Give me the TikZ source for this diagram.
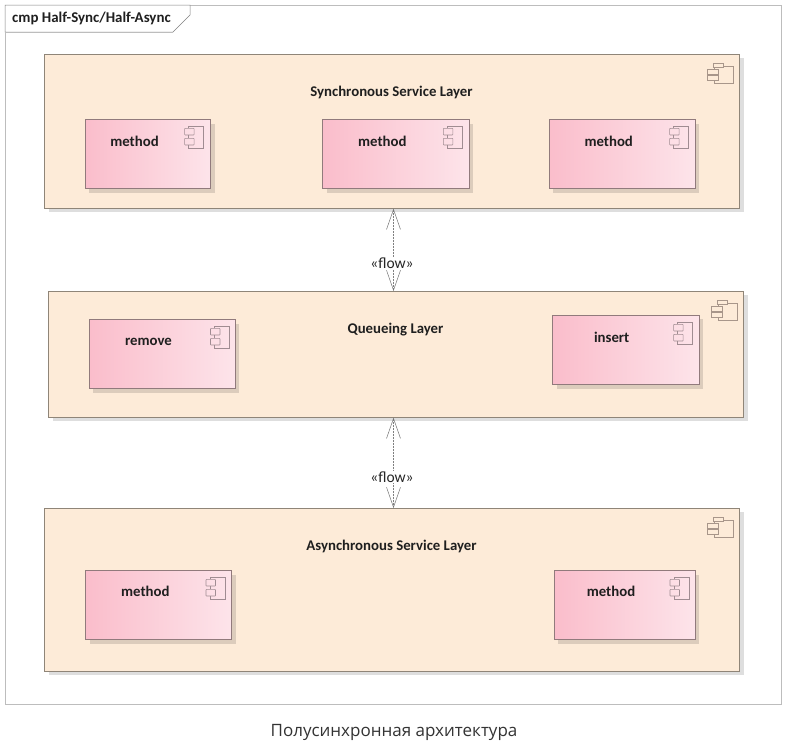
\documentclass[tikz,border=0pt]{standalone}
\usepackage{fontspec}
\setmainfont{Carlito}
\newfontfamily\capfont{Open Sans}
\usetikzlibrary{arrows.meta,calc}
\definecolor{layerfill}{HTML}{FDEBD8}
\definecolor{layerline}{HTML}{8F8578}
\definecolor{compline}{HTML}{917A7C}
\definecolor{pinkL}{HTML}{FABDCB}
\definecolor{pinkM}{HTML}{FBD4DF}
\definecolor{pinkR}{HTML}{FDE4EA}
\definecolor{frameline}{HTML}{BDBDBD}
\definecolor{iconA}{HTML}{A8968A}
\definecolor{iconB}{HTML}{A08C92}
\tikzset{
  x=1pt,y=-1pt,
  layerbox/.style={rectangle,anchor=north west,draw=layerline,line width=.7pt,fill=layerfill,inner sep=0pt,
    preaction={draw=none,fill=black,fill opacity=.13,transform canvas={xshift=4.5pt,yshift=-4pt}}},
  compbox/.style={rectangle,anchor=north west,draw=compline,line width=.7pt,left color=pinkL,middle color=pinkM,right color=pinkR,inner sep=0pt,
    preaction={draw=none,fill=black,fill opacity=.13,transform canvas={xshift=4pt,yshift=-4pt}}},
  lbl/.style={font=\bfseries\fontsize{14.8}{16}\selectfont,text=black!88,inner sep=0pt,anchor=center},
  flowlbl/.style={font=\fontsize{15.5}{17}\selectfont,fill=white,inner sep=0.5pt,text=black!85},
  flowline/.style={dash pattern=on 2pt off 1pt,draw=black!50,line width=.5pt,
    {Straight Barb[length=20pt,width=14pt,line width=.5pt,color=black!55]}-{Straight Barb[length=20pt,width=14pt,line width=.5pt,color=black!55]}},
}
% component icon: #1 = top right corner of its body
\newcommand{\compicon}[1]{%
  \begin{scope}[shift={#1},draw=iconB,line width=.55pt]
    \draw (-15,2.3) -- (-15,0) -- (0,0) -- (0,22.3) -- (-15,22.3) -- (-15,19);
    \draw (-15,9) -- (-15,12.3);
    \draw[rounded corners=.6pt] (-19,2.3) rectangle (-9.5,9);
    \draw[rounded corners=.6pt] (-19,12.3) rectangle (-9.5,19);
  \end{scope}}
\newcommand{\layericon}[1]{%
  \begin{scope}[shift={#1},draw=iconA,line width=.55pt]
    \draw (-10,0) -- (0,0) -- (0,17.3) -- (-19,17.3) -- (-19,14);
    \draw (-19,1) -- (-19,3) (-19,8) -- (-19,9);
    \draw (-20,-3) rectangle (-10,1);
    \draw (-26,3) rectangle (-15,8);
    \draw (-26,9) rectangle (-15,14);
  \end{scope}}
\begin{document}
\begin{tikzpicture}
\useasboundingbox (0,0) rectangle (786,747);
\fill[white] (0,0) rectangle (786,747);
% outer frame
\node[rectangle,anchor=north west,draw=frameline,line width=.8pt,minimum width=776pt,minimum height=699pt,inner sep=0pt] (frame) at (5,5) {};
\draw[draw=black!50,line width=.5pt,fill=white] (5,5) -- (190,5) -- (190,15) -- (173,32) -- (5,32) -- cycle;
\draw[draw=frameline,line width=.8pt] (5,32) -- (173,32);
\node[font=\bfseries\fontsize{14.9}{16}\selectfont,text=black!88,anchor=west,inner sep=0pt] (title) at (12,18.5) {cmp Half-Sync/Half-Async};
% layers
\node[layerbox,minimum width=695pt,minimum height=154pt] (l1) at (44,54) {};
\node[layerbox,minimum width=695pt,minimum height=126pt] (l2) at (48,291) {};
\node[layerbox,minimum width=695pt,minimum height=163pt] (l3) at (44,508) {};
\layericon{(733,66)}
\layericon{(737,303)}
\layericon{(733,520)}
\node[lbl] (t1) at (391.5,92.5) {Synchronous Service Layer};
\node[lbl] (t2) at (395.5,329.5) {Queueing Layer};
\node[lbl] (t3) at (391.5,546.5) {Asynchronous Service Layer};
% components
\node[compbox,minimum width=125.3pt,minimum height=69pt] (c1) at (85,119.3) {};
\node[compbox,minimum width=146.4pt,minimum height=69pt] (c2) at (322.3,119.3) {};
\node[compbox,minimum width=146.3pt,minimum height=69pt] (c3) at (548.7,119.3) {};
\node[compbox,minimum width=146pt,minimum height=69pt] (c4) at (89,319.3) {};
\node[compbox,minimum width=146.7pt,minimum height=69.3pt] (c5) at (552.3,315) {};
\node[compbox,minimum width=146pt,minimum height=69pt] (c6) at (85.3,570.3) {};
\node[compbox,minimum width=141pt,minimum height=69pt] (c7) at (554,570.3) {};
\compicon{(203.7,126)}
\compicon{(462.3,126)}
\compicon{(688.7,126)}
\compicon{(229.5,326)}
\compicon{(692.7,322)}
\compicon{(225,577)}
\compicon{(689,577)}
\node[lbl] at (134.5,141.5) {method};
\node[lbl] at (382.3,141.5) {method};
\node[lbl] at (608.7,141.5) {method};
\node[lbl] at (148.5,341.5) {remove};
\node[lbl] at (611.7,337.5) {insert};
\node[lbl] at (145.3,591.5) {method};
\node[lbl] at (611,591.5) {method};
% connectors
\coordinate (x1) at (393.5,250);
\coordinate (x2) at (393.5,470);
\draw[flowline] (l1.south -| x1) -- (l2.north -| x1);
\draw[flowline] (l2.south -| x2) -- (l3.north -| x2);
\node[flowlbl] (f1) at (392,263) {«flow»};
\node[flowlbl] (f2) at (392,477) {«flow»};
% caption
\node[font=\fontsize{17}{20}\selectfont,text=black!80,inner sep=0pt] (cap) at (394,732) {\capfont Полусинхронная архитектура};
\end{tikzpicture}
\end{document}
